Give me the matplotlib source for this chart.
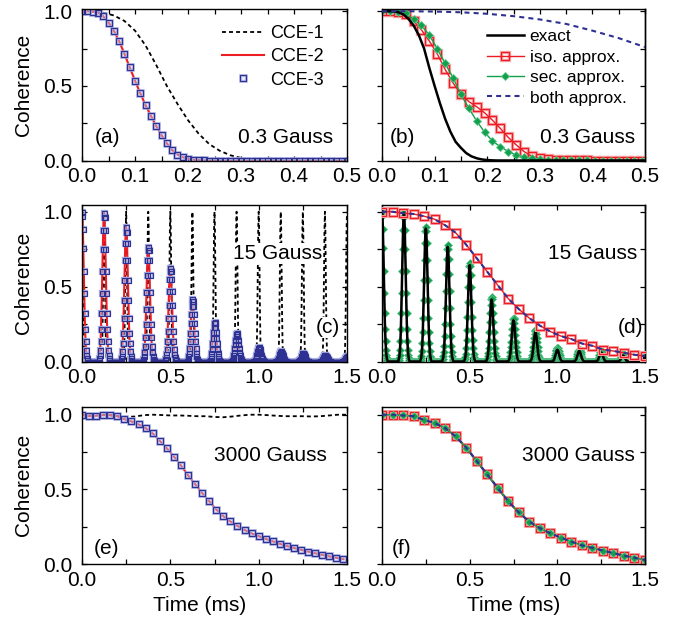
import numpy as np
import matplotlib
matplotlib.use("Agg")
import matplotlib.pyplot as plt
from matplotlib.ticker import MultipleLocator, FormatStrFormatter

plt.rcParams['font.family'] = ['Liberation Sans', 'DejaVu Sans']

RED = '#ed1c24'
PINK = '#f6a8a8'
NAVY = '#2e3192'
LAV = '#a3aade'
LAVFILL = (0.78, 0.80, 0.94, 0.45)
GREEN = '#13a04c'
LGREEN = '#5cc48a'

# ---------------- panel (a): 0.3 Gauss, CCE orders ----------------
A_T1 = np.round(np.arange(0, 0.5001, 0.02), 3)
A_CCE1 = [1.0, 0.998, 0.99, 0.972, 0.935, 0.87, 0.77, 0.64, 0.50, 0.38, 0.27, 0.18,
          0.11, 0.065, 0.035, 0.017, 0.008, 0.003, 0.001, 0.0, 0.0, 0.0, 0.0, 0.0, 0.0, 0.0]
A_T = np.round(np.arange(0, 0.5001, 0.01), 3)
A_CCE2 = [1.0, 1.0, 0.997, 0.99, 0.967, 0.925, 0.87, 0.80, 0.715, 0.625, 0.535, 0.45,
          0.37, 0.30, 0.23, 0.17, 0.115, 0.07, 0.04, 0.022, 0.012, 0.006, 0.003, 0.001] + [0.0] * 27
A_CCE3 = [1.0, 1.0, 0.997, 0.99, 0.968, 0.924, 0.87, 0.80, 0.716, 0.624, 0.535, 0.45,
          0.371, 0.30, 0.23, 0.168, 0.114, 0.07, 0.04, 0.022, 0.012, 0.006, 0.003, 0.001] + [0.0] * 27

# ---------------- panel (b): 0.3 Gauss, approximations ----------------
B_T = np.round(np.arange(0, 0.5001, 0.01), 3)
B_EXACT = [1.0, 1.0, 1.0, 0.995, 0.98, 0.95, 0.905, 0.84, 0.75, 0.62, 0.50, 0.385,
           0.28, 0.193, 0.125, 0.085, 0.05, 0.028, 0.015, 0.007, 0.003, 0.001] + [0.0] * 29
B_TM = np.round(np.arange(0, 0.4951, 0.015), 4)
B_ISO = [1.0, 1.0, 0.997, 0.98, 0.935, 0.875, 0.80, 0.715, 0.61, 0.52, 0.445, 0.395,
         0.36, 0.32, 0.27, 0.215, 0.155, 0.105, 0.06, 0.028, 0.014, 0.008, 0.005, 0.003,
         0.002, 0.001, 0.001] + [0.0] * 7
B_SEC = [1.0, 1.0, 0.998, 0.985, 0.945, 0.905, 0.84, 0.75, 0.65, 0.555, 0.443, 0.35,
         0.265, 0.19, 0.13, 0.093, 0.06, 0.037, 0.022, 0.014, 0.009, 0.006, 0.004, 0.003,
         0.002, 0.001, 0.001] + [0.0] * 7
B_TB = np.round(np.arange(0, 0.5001, 0.05), 3)
B_BOTH = [1.0, 1.0, 0.998, 0.993, 0.983, 0.967, 0.945, 0.915, 0.87, 0.82, 0.76]

# ---------------- panels (c),(d): 15 Gauss, revivals ----------------
SPIKE_T = [0.0, 0.125, 0.25, 0.375, 0.5, 0.625, 0.75, 0.875, 1.0, 1.125, 1.25, 1.375, 1.5]
C_CCE1_PEAK = [1.0, 1.0, 1.0, 1.0, 1.0, 1.0, 1.0, 1.0, 1.0, 1.0, 1.0, 1.0, 1.0]
C_CCE2_PEAK = [1.0, 0.993, 0.895, 0.766, 0.627, 0.42, 0.263, 0.19, 0.096, 0.067, 0.056, 0.045, 0.036]
C_CCE3_PEAK = [1.0, 0.993, 0.895, 0.766, 0.627, 0.42, 0.263, 0.19, 0.096, 0.067, 0.056, 0.045, 0.036]
D_EXACT_PEAK = [1.0, 0.993, 0.888, 0.766, 0.643, 0.413, 0.275, 0.196, 0.078, 0.07, 0.06, 0.04, 0.03]
D_SEC_PEAK = [1.0, 0.995, 0.90, 0.775, 0.655, 0.43, 0.29, 0.21, 0.09, 0.08, 0.07, 0.05, 0.04]
GRID_DT = 0.0025
SPIKE_K = list(range(-12, 13))
SHAPE_WIDE = [0.011, 0.023, 0.044, 0.080, 0.135, 0.216, 0.325, 0.458, 0.607, 0.755, 0.882, 0.969,
              1.0, 0.969, 0.882, 0.755, 0.607, 0.458, 0.325, 0.216, 0.135, 0.080, 0.044, 0.023, 0.011]
SHAPE_NARROW = [0.0, 0.0, 0.0, 0.0, 0.0, 0.002, 0.011, 0.044, 0.135, 0.325, 0.607, 0.882,
                1.0, 0.882, 0.607, 0.325, 0.135, 0.044, 0.011, 0.002, 0.0, 0.0, 0.0, 0.0, 0.0]
D_T = np.round(np.arange(0, 1.5001, 0.06), 3)
D_ISO = [1.0, 1.0, 0.99, 0.985, 0.97, 0.95, 0.91, 0.86, 0.78, 0.69, 0.60, 0.51, 0.42,
         0.35, 0.29, 0.24, 0.20, 0.17, 0.15, 0.12, 0.105, 0.08, 0.07, 0.058, 0.045, 0.036]
D_BOTH = [1.0, 1.0, 0.99, 0.985, 0.97, 0.95, 0.91, 0.86, 0.78, 0.69, 0.60, 0.51, 0.42,
          0.35, 0.29, 0.24, 0.20, 0.17, 0.15, 0.12, 0.105, 0.08, 0.07, 0.058, 0.045, 0.036]

# ---------------- panels (e),(f): 3000 Gauss ----------------
E_T1 = np.round(np.arange(0, 1.5001, 0.05), 3)
E_CCE1 = [1.0, 1.0, 1.0, 0.998, 0.99, 0.985, 0.988, 0.997, 1.0, 0.998, 0.995, 0.995, 0.993,
          0.99, 0.99, 0.985, 0.983, 0.988, 0.995, 1.0, 1.0, 0.997, 0.993, 0.99, 0.99, 0.99,
          0.988, 0.99, 0.995, 1.0, 1.0]
E_T = np.round(np.arange(0, 1.4801, 0.04), 3)
E_CCE2 = [1.0, 0.99, 0.993, 0.997, 0.997, 0.99, 0.97, 0.955, 0.935, 0.91, 0.875, 0.825,
          0.775, 0.72, 0.66, 0.595, 0.535, 0.475, 0.42, 0.365, 0.32, 0.285, 0.255, 0.228,
          0.205, 0.187, 0.168, 0.152, 0.135, 0.12, 0.107, 0.095, 0.083, 0.072, 0.061, 0.051,
          0.041, 0.032]
E_CCE3 = list(E_CCE2)
F_T = np.round(np.arange(0, 1.5001, 0.06), 3)
F_EXACT = [1.0, 1.0, 0.995, 0.99, 0.966, 0.944, 0.91, 0.855, 0.78, 0.69, 0.60, 0.51, 0.42,
           0.345, 0.284, 0.24, 0.206, 0.177, 0.15, 0.125, 0.108, 0.09, 0.072, 0.056, 0.042, 0.027]
F_ISO = list(F_EXACT)
F_SEC = list(F_EXACT)
F_BOTH = list(F_EXACT)

LEG_A = ['CCE-1', 'CCE-2', 'CCE-3']
LEG_B = ['exact', 'iso. approx.', 'sec. approx.', 'both approx.']


def spike_series(peaks, shape):
    t = np.round(np.arange(0, 1.5 + 1e-9, GRID_DT), 6)
    y = np.zeros_like(t)
    for tc, h in zip(SPIKE_T, peaks):
        i0 = int(round(tc / GRID_DT))
        for j, s in zip(SPIKE_K, shape):
            i = i0 + j
            if 0 <= i < len(t):
                y[i] = max(y[i], h * s)
    return t, y


W, H = 686, 626
fig = plt.figure(figsize=(W / 100, H / 100), dpi=100)


def add_ax(l, t, r, b):
    return fig.add_axes([l / W, 1 - b / H, (r - l) / W, (b - t) / H])


def style(ax, xmax, xmaj, xmin, ytop, right_panel):
    ax.set_xlim(0, xmax)
    ax.set_ylim(0, ytop)
    for s in ax.spines.values():
        s.set_linewidth(1.0)
    ax.xaxis.set_major_locator(MultipleLocator(xmaj))
    ax.xaxis.set_minor_locator(MultipleLocator(xmin))
    ax.xaxis.set_major_formatter(FormatStrFormatter('%.1f'))
    ax.yaxis.set_major_locator(MultipleLocator(0.5))
    ax.yaxis.set_minor_locator(MultipleLocator(0.25))
    ax.yaxis.set_major_formatter(FormatStrFormatter('%.1f'))
    ax.tick_params(which='both', direction='in', top=True, right=True,
                   length=3.6, width=0.9, labelsize=15)
    ax.tick_params(axis='x', which='both', pad=5)
    ax.tick_params(axis='y', which='both', pad=7)
    if right_panel:
        ax.tick_params(axis='y', which='both', direction='out', right=False, labelleft=False)
        sec = ax.secondary_yaxis('right')
        sec.yaxis.set_major_locator(MultipleLocator(0.5))
        sec.yaxis.set_minor_locator(MultipleLocator(0.25))
        sec.tick_params(which='both', direction='in', length=3.6, width=0.9, labelright=False)
        sec.spines['right'].set_linewidth(1.0)
    else:
        ax.set_ylabel('Coherence', fontsize=15)
        ax.yaxis.set_label_coords(-0.185, 0.5)


axa = add_ax(82, 9, 347, 160.5)
axb = add_ax(382, 9, 645, 160.5)
axc = add_ax(82, 205, 347, 361.5)
axd = add_ax(382, 205, 645, 361.5)
axe = add_ax(82, 406.5, 347, 564)
axf = add_ax(382, 406.5, 645, 564)

style(axa, 0.5, 0.1, 0.05, 1.015, False)
style(axb, 0.5, 0.1, 0.05, 1.015, True)
style(axc, 1.5, 0.5, 0.25, 1.045, False)
style(axd, 1.5, 0.5, 0.25, 1.045, True)
style(axe, 1.5, 0.5, 0.25, 1.055, False)
style(axf, 1.5, 0.5, 0.25, 1.055, True)

DASH_K = (2.2, 1.7)
DASH_N = (2.4, 2.0)

# ---- (a)
l1, = axa.plot(A_T1, A_CCE1, color='black', lw=1.3, dashes=DASH_K)
l2, = axa.plot(A_T, A_CCE2, color=RED, lw=1.5)
h3, = axa.plot(A_T, A_CCE3, ls='none', marker='s', ms=3.8, mfc=LAVFILL, mec=LAV, mew=1.8)
l3, = axa.plot(A_T, A_CCE3, ls='none', marker='s', ms=3.8, mfc='none', mec=NAVY, mew=0.8)
axa.legend([l1, l2, (h3, l3)], LEG_A, loc='upper left', bbox_to_anchor=(0.53, 0.895),
           frameon=False, fontsize=13, handlelength=2.3, handletextpad=0.35,
           labelspacing=0.35, borderpad=0, borderaxespad=0, numpoints=1)
axa.text(0.049, 0.149, '(a)', transform=axa.transAxes, fontsize=15, ha='left', va='center')
axa.text(0.947, 0.149, '0.3 Gauss', transform=axa.transAxes, fontsize=15, ha='right', va='center')

# ---- (b)
be, = axb.plot(B_T, B_EXACT, color='black', lw=1.8, zorder=3)
bih, = axb.plot(B_TM, B_ISO, ls='none', marker='s', ms=6, mfc='none', mec=PINK, mew=2.4, zorder=2)
bi, = axb.plot(B_TM, B_ISO, color=RED, lw=1.0, marker='s', ms=6, mfc='none', mec=RED, mew=0.9, zorder=2.1)
bs, = axb.plot(B_TM, B_SEC, color=GREEN, lw=1.0, marker='D', ms=4.2, mfc=GREEN, mec=LGREEN, mew=0.6, zorder=2.2)
bb, = axb.plot(B_TB, B_BOTH, color=NAVY, lw=1.5, dashes=DASH_N, zorder=4)
axb.legend([be, (bih, bi), bs, bb], LEG_B, loc='upper left', bbox_to_anchor=(0.40, 0.866),
           frameon=False, fontsize=12.5, handlelength=2.1, handletextpad=0.35,
           labelspacing=0.3, borderpad=0, borderaxespad=0, numpoints=1)
axb.text(0.030, 0.149, '(b)', transform=axb.transAxes, fontsize=15, ha='left', va='center')
axb.text(0.962, 0.149, '0.3 Gauss', transform=axb.transAxes, fontsize=15, ha='right', va='center')

# ---- (c)
tc1, yc1 = spike_series(C_CCE1_PEAK, SHAPE_NARROW)
tc2, yc2 = spike_series(C_CCE2_PEAK, SHAPE_WIDE)
tc3, yc3 = spike_series(C_CCE3_PEAK, SHAPE_WIDE)
axc.plot(tc1, yc1, color='black', lw=1.3, dashes=DASH_K, zorder=2)
axc.plot(tc2, yc2, color=RED, lw=1.5, zorder=2.1)
axc.plot(tc3, yc3, ls='none', marker='s', ms=3.6, mfc=LAVFILL, mec=LAV, mew=1.6, zorder=2.2)
axc.plot(tc3, yc3, ls='none', marker='s', ms=3.6, mfc='none', mec=NAVY, mew=0.8, zorder=2.3)
axc.text(0.57, 0.693, '15 Gauss', transform=axc.transAxes, fontsize=15, ha='left', va='center',
         zorder=5, bbox=dict(boxstyle='square,pad=0.05', fc='white', ec='none'))
axc.text(0.974, 0.22, '(c)', transform=axc.transAxes, fontsize=15, ha='right', va='center',
         zorder=5, bbox=dict(boxstyle='square,pad=0.05', fc='white', ec='none'))

# ---- (d)
td, yde = spike_series(D_EXACT_PEAK, SHAPE_WIDE)
td2, yds = spike_series(D_SEC_PEAK, SHAPE_WIDE)
axd.plot(td2, yds, color=GREEN, lw=1.0, marker='D', ms=4.0, mfc=GREEN, mec=LGREEN, mew=0.5, zorder=2)
axd.plot(td, yde, color='black', lw=1.8, zorder=2.5)
axd.plot(D_T, D_ISO, ls='none', marker='s', ms=5.5, mfc='none', mec=PINK, mew=2.2, zorder=3)
axd.plot(D_T, D_ISO, color=RED, lw=1.0, marker='s', ms=5.5, mfc='none', mec=RED, mew=0.9, zorder=3.1)
axd.plot(D_T, D_BOTH, color=NAVY, lw=1.5, dashes=DASH_N, zorder=4)
axd.text(0.631, 0.693, '15 Gauss', transform=axd.transAxes, fontsize=15, ha='left', va='center')
axd.text(0.992, 0.22, '(d)', transform=axd.transAxes, fontsize=15, ha='right', va='center')

# ---- (e)
axe.plot(E_T1, E_CCE1, color='black', lw=1.3, dashes=DASH_K, zorder=2)
axe.plot(E_T, E_CCE2, color=RED, lw=1.5, zorder=2.1)
axe.plot(E_T, E_CCE3, ls='none', marker='s', ms=4.0, mfc=LAVFILL, mec=LAV, mew=1.8, zorder=2.2)
axe.plot(E_T, E_CCE3, ls='none', marker='s', ms=4.0, mfc='none', mec=NAVY, mew=0.8, zorder=2.3)
axe.text(0.498, 0.692, '3000 Gauss', transform=axe.transAxes, fontsize=15, ha='left', va='center')
axe.text(0.045, 0.10, '(e)', transform=axe.transAxes, fontsize=15, ha='left', va='center')
axe.set_xlabel('Time (ms)', fontsize=15)
axe.xaxis.set_label_coords(0.445, -0.205)

# ---- (f)
axf.plot(F_T, F_EXACT, color='black', lw=1.5, zorder=2)
axf.plot(F_T, F_ISO, ls='none', marker='s', ms=5.5, mfc='none', mec=PINK, mew=2.2, zorder=2.1)
axf.plot(F_T, F_ISO, color=RED, lw=1.0, marker='s', ms=5.5, mfc='none', mec=RED, mew=0.9, zorder=2.2)
axf.plot(F_T, F_SEC, color=GREEN, lw=1.0, marker='D', ms=4.2, mfc=GREEN, mec=LGREEN, mew=0.6, zorder=2.3)
axf.plot(F_T, F_BOTH, color=NAVY, lw=1.5, dashes=DASH_N, zorder=3)
axf.text(0.532, 0.692, '3000 Gauss', transform=axf.transAxes, fontsize=15, ha='left', va='center')
axf.text(0.038, 0.10, '(f)', transform=axf.transAxes, fontsize=15, ha='left', va='center')
axf.set_xlabel('Time (ms)', fontsize=15)
axf.xaxis.set_label_coords(0.5, -0.205)

fig.savefig('out.png', dpi=100)
